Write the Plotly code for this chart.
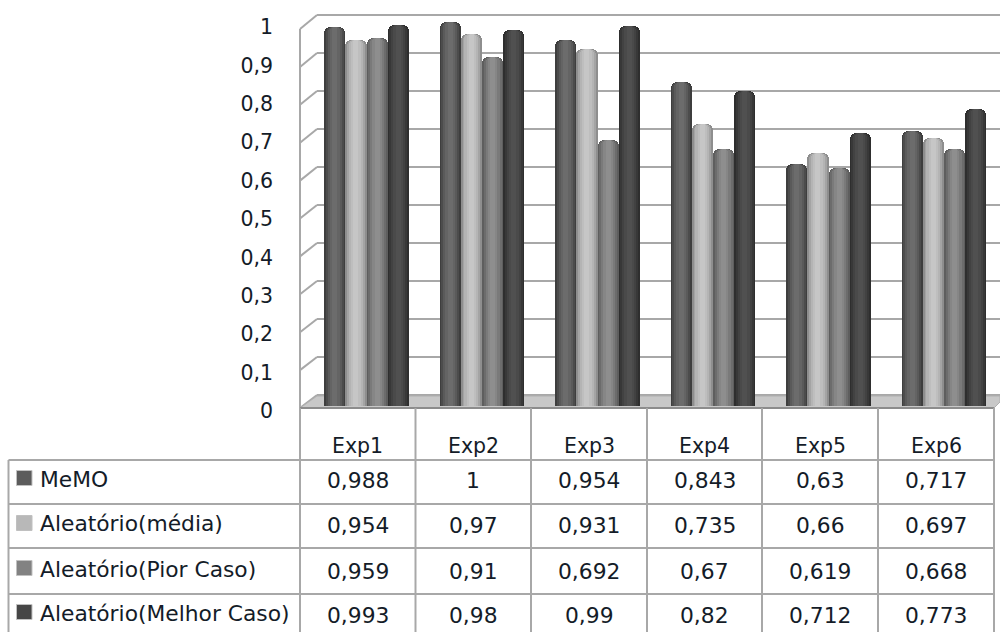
import plotly.graph_objects as go

categories = ["Exp1", "Exp2", "Exp3", "Exp4", "Exp5", "Exp6"]
series_names = ["MeMO", "Aleatório(média)", "Aleatório(Pior Caso)", "Aleatório(Melhor Caso)"]
memo = [0.988, 1, 0.954, 0.843, 0.63, 0.717]
media = [0.954, 0.97, 0.931, 0.735, 0.66, 0.697]
pior = [0.959, 0.91, 0.692, 0.67, 0.619, 0.668]
melhor = [0.993, 0.98, 0.99, 0.82, 0.712, 0.773]
series_values = [memo, media, pior, melhor]
y_ticks = [0, 0.1, 0.2, 0.3, 0.4, 0.5, 0.6, 0.7, 0.8, 0.9, 1]

W, H = 1000, 632
FONT = "DejaVu Sans"
TEXT = "#141c28"
LINE = "#a8a8a8"
shades = [
    ["#3e3e3e", "#4c4c4c", "#5a5a5a", "#646464", "#6c6c6c"],
    ["#8e8e8e", "#a4a4a4", "#b4b4b4", "#bebebe", "#c6c6c6"],
    ["#5e5e5e", "#6c6c6c", "#7a7a7a", "#868686", "#8e8e8e"],
    ["#2e2e2e", "#383838", "#424242", "#4a4a4a", "#505050"],
]
layer_widths = [1.0, 0.84, 0.66, 0.46, 0.24]
layer_radius = [6, 6, 5, 4, 2]
key_colors = ["#5c5c5c", "#b8b8b8", "#828282", "#464646"]

px = lambda x: x / W
py = lambda y: 1 - y / H
Y0, Y1 = 406, 22
GROUP = 115.5
X_C0 = 366.5
BAR = 21.2 / GROUP

fig = go.Figure()
for s, vals in enumerate(series_values):
    for lw, col, rad in zip(layer_widths, shades[s], layer_radius):
        fig.add_trace(go.Bar(
            x=[i + (s - 1.5) * BAR for i in range(len(categories))],
            y=vals,
            width=BAR * lw,
            marker=dict(color=col, line_width=0, cornerradius=rad),
            showlegend=False,
            hoverinfo="skip",
            name=series_names[s],
        ))

shapes = []
def line(x0, y0, x1, y1, color=LINE, width=2):
    shapes.append(dict(type="line", xref="paper", yref="paper", layer="below",
                       x0=px(x0), y0=py(y0), x1=px(x1), y1=py(y1),
                       line=dict(color=color, width=width)))

for v in y_ticks:
    back = 395 - 380 * v
    front = 408 - 379 * v
    line(300, front, 317, back)
    line(317, back, 1000, back)
line(300, 29, 300, 408)

shapes.append(dict(type="path", xref="paper", yref="paper", layer="below",
                   path=f"M {px(300)} {py(408)} L {px(317)} {py(396)} L {px(1000)} {py(396)} "
                        f"L {px(1000)} {py(402)} L {px(994)} {py(408)} Z",
                   fillcolor="#c8c8c8", line=dict(color="#b0b0b0", width=1)))
line(300, 408, 994, 408, "#8c8c8c", 2)

col_x = [300, 415.5, 531, 647, 762, 878, 994]
row_y = [460, 504, 548, 594]
for x in col_x:
    line(x, 408, x, 632)
line(8.5, 460, 8.5, 632)
for y in row_y:
    line(8.5, y, 994, y)

text_y = [481, 525, 571, 615]
key_y = [478, 523, 568, 612]
for ky, col in zip(key_y, key_colors):
    shapes.append(dict(type="rect", xref="paper", yref="paper",
                       x0=px(16.5), x1=px(32), y0=py(ky - 7.5), y1=py(ky + 7.5),
                       fillcolor=col, line=dict(color="#c0c0c0", width=1)))

annotations = []
def text(x, y, s, anchor="center", size=21.8):
    annotations.append(dict(xref="paper", yref="paper", x=px(x), y=py(y), text=s,
                            showarrow=False, xanchor=anchor, yanchor="middle",
                            font=dict(family=FONT, size=size, color=TEXT)))

centers = [(a + b) / 2 for a, b in zip(col_x[:-1], col_x[1:])]
for c, cat in zip(centers, categories):
    text(c, 446, cat, size=20.5)
for r, (name, vals) in enumerate(zip(series_names, series_values)):
    text(38, text_y[r] - 2, name, anchor="left")
    for c, v in zip(centers, vals):
        text(c, text_y[r], str(v).replace(".", ","))

fig.update_layout(
    width=W, height=H, autosize=False,
    margin=dict(l=0, r=0, t=0, b=0, autoexpand=False),
    paper_bgcolor="white", plot_bgcolor="rgba(0,0,0,0)",
    barmode="overlay",
    bargap=0,
    shapes=shapes, annotations=annotations,
    xaxis=dict(domain=[px(300), px(1000)],
               range=[(300 - X_C0) / GROUP, (1000 - X_C0) / GROUP],
               showgrid=False, zeroline=False, showticklabels=False, ticks="", showline=False),
    yaxis=dict(domain=[py(Y0), py(Y1)], range=[0, 1],
               tickvals=y_ticks,
               ticktext=[str(v).replace(".", ",") for v in y_ticks],
               showgrid=False, zeroline=False, showline=False, ticks="",
               ticklabelstandoff=26, ticklabelshift=5,
               tickfont=dict(family=FONT, size=20.5, color=TEXT)),
)

fig.write_html("out.html", config={"displayModeBar": False},
               post_script="document.body.style.margin='0';document.documentElement.style.overflow='hidden';")
